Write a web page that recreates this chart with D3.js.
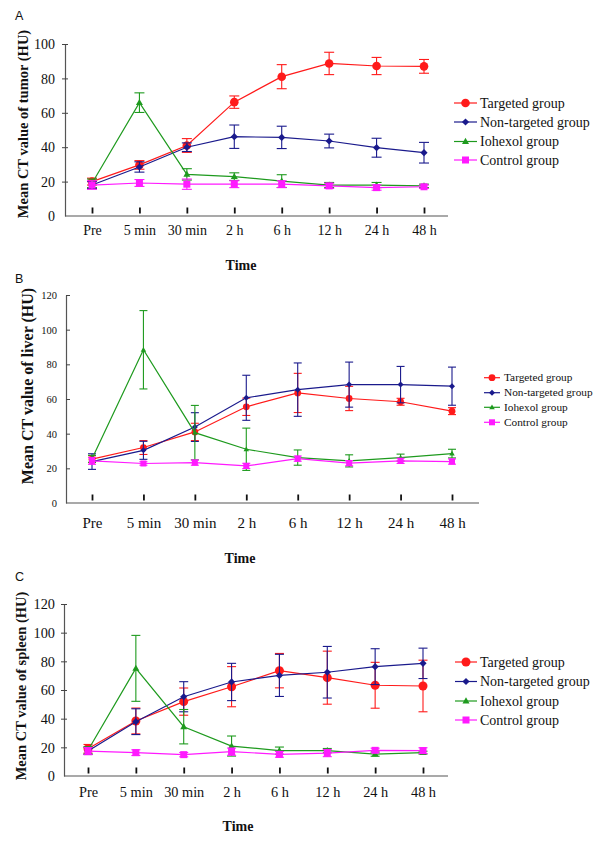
<!DOCTYPE html>
<html><head><meta charset="utf-8">
<script src="https://cdn.jsdelivr.net/npm/d3@7"></script>
<style>
html,body{margin:0;padding:0;background:#fff;}
svg{display:block;}
text{font-family:"Liberation Serif","Times New Roman",serif;fill:#111;}
</style></head>
<body>
<svg id="chart" width="600" height="841"></svg>
<script>
// ---------- DATA ----------
const categories = ["Pre","5 min","30 min","2 h","6 h","12 h","24 h","48 h"];
const seriesNames = ["Targeted group","Non-targeted group","Iohexol group","Control group"];
const seriesColors = ["#ff1a1a","#1a1a8c","#1e9a1e","#ff1aff"];
const seriesShapes = ["circle","diamond","triangle","square"];

// Panel A: tumor
const tumorTargeted      = [20, 29.7, 41, 66.2, 81, 88.7, 87.2, 87];
const tumorTargetedErr   = [2, 2.5, 4, 3.6, 7, 6.5, 5, 4];
const tumorNonTargeted   = [18, 28.5, 40, 46.1, 45.7, 43.6, 39.7, 36.8];
const tumorNonTargetedErr= [2, 3, 2.5, 6.8, 6.5, 4, 5.5, 6];
const tumorIohexol       = [19, 65.9, 24.2, 22.9, 20.3, 18, 18, 17.5];
const tumorIohexolErr    = [2.5, 5.7, 3.3, 2.2, 3.7, 1.5, 1.5, 1];
const tumorControl       = [18, 19.2, 18.5, 18.5, 18.5, 17.5, 16.5, 17];
const tumorControlErr    = [2.5, 2, 3, 2, 2, 1.5, 1.5, 1];

// Panel B: liver
const liverTargeted      = [25.3, 32, 41, 55.5, 63.5, 60.3, 58.4, 53];
const liverTargetedErr   = [2, 4, 5, 5, 11.3, 7, 2, 2];
const liverNonTargeted   = [23.9, 30.4, 43.8, 60.7, 65.4, 68.3, 68.3, 67.4];
const liverNonTargetedErr= [4.5, 5.2, 8.3, 13, 15.4, 13, 10.5, 11];
const liverIohexol       = [25.5, 88.4, 40.6, 31, 26.2, 24.3, 26.2, 28.5];
const liverIohexolErr    = [2, 22.6, 15.7, 12.2, 4.4, 3.5, 2, 2.5];
const liverControl       = [24.3, 22.8, 23.3, 21.4, 25.6, 23, 24.3, 23.9];
const liverControlErr    = [2, 1, 1.5, 1.5, 1.5, 1.5, 1.5, 1.5];

// Panel C: spleen
const spleenTargeted      = [19, 38.4, 51.9, 62.3, 73.5, 68.6, 63.3, 62.8];
const spleenTargetedErr   = [3, 9, 9.5, 14, 12, 18.5, 16, 18];
const spleenNonTargeted   = [17.5, 37.9, 55.3, 65.6, 70.2, 72.4, 76.3, 78.6];
const spleenNonTargetedErr= [2.5, 9, 10.5, 13, 14.7, 18, 12.5, 10.6];
const spleenIohexol       = [18, 75.1, 34.4, 20.9, 17.7, 17.7, 15.3, 16.3];
const spleenIohexolErr    = [2.5, 23, 12, 7, 2.5, 1.5, 1.5, 1];
const spleenControl       = [17.4, 16.3, 14.9, 17, 15.1, 16, 17.9, 17.7];
const spleenControlErr    = [2.5, 2, 1.5, 2.5, 2, 2.5, 1.5, 2];

const yTicksA = [0,20,40,60,80,100];
const yTicksBC = [0,20,40,60,80,100,120];

// ---------- LAYOUT ----------
const panels = [
  {label:"A", labelY:20, title:"Mean CT value of tumor (HU)",
   values:[tumorTargeted,tumorNonTargeted,tumorIohexol,tumorControl],
   errors:[tumorTargetedErr,tumorNonTargetedErr,tumorIohexolErr,tumorControlErr],
   yTicks:yTicksA, yMax:100,
   axX0:65, axX1:448, cat0:92, cat1:424, y0:216, yTop:44,
   xFont:14, yFont:14, yLabelRight:55, xLabelDy:19, ytickMode:"cross",
   titleX:22.5, titleY:124, titleFont:14.5, timeX:241, timeY:270,
   mk:{r:4.3, d:3.6, t:7, s:7}, cap:5,
   leg:{x0:454, x1:477, tx:480, y:[103,122,141.5,160], font:14}},
  {label:"B", labelY:283, title:"Mean CT value of liver (HU)",
   values:[liverTargeted,liverNonTargeted,liverIohexol,liverControl],
   errors:[liverTargetedErr,liverNonTargetedErr,liverIohexolErr,liverControlErr],
   yTicks:yTicksBC, yMax:120,
   axX0:66, axX1:479, cat0:92, cat1:452, y0:503, yTop:295,
   xFont:15, yFont:10.5, yLabelRight:57, xLabelDy:25, ytickMode:"in",
   titleX:27.5, titleY:386, titleFont:16, timeX:240, timeY:563,
   mk:{r:3.4, d:3, t:5.5, s:6}, cap:4,
   leg:{x0:484, x1:500, tx:504, y:[377.7,392.7,407.3,422.3], font:11.3}},
  {label:"C", labelY:581, title:"Mean CT value of spleen (HU)",
   values:[spleenTargeted,spleenNonTargeted,spleenIohexol,spleenControl],
   errors:[spleenTargetedErr,spleenNonTargetedErr,spleenIohexolErr,spleenControlErr],
   yTicks:yTicksBC, yMax:120,
   axX0:64, axX1:448, cat0:88, cat1:423, y0:776, yTop:604,
   xFont:14.3, yFont:14.3, yLabelRight:55, xLabelDy:21, ytickMode:"cross",
   titleX:21, titleY:686, titleFont:14.5, timeX:238, timeY:831,
   mk:{r:4.5, d:3.6, t:7, s:7}, cap:4.5,
   leg:{x0:455, x1:477, tx:480, y:[662,681.5,701,720], font:14}}
];

const svg = d3.select("#chart");

function drawMarker(g, shape, x, y, mk, color){
  if(shape==="circle"){
    g.append("circle").attr("cx",x).attr("cy",y).attr("r",mk.r).attr("fill",color);
  } else if(shape==="diamond"){
    const d=mk.d;
    g.append("path").attr("d",`M${x},${y-d}L${x+d},${y}L${x},${y+d}L${x-d},${y}Z`).attr("fill",color);
  } else if(shape==="triangle"){
    const t=mk.t, h=t*0.87;
    g.append("path").attr("d",`M${x},${y-h*0.6}L${x+t/2},${y+h*0.4}L${x-t/2},${y+h*0.4}Z`).attr("fill",color);
  } else {
    const s=mk.s;
    g.append("rect").attr("x",x-s/2).attr("y",y-s/2).attr("width",s).attr("height",s).attr("fill",color);
  }
}

panels.forEach(p=>{
  const g = svg.append("g");
  const x = d3.scalePoint().domain(categories).range([p.cat0,p.cat1]);
  const y = d3.scaleLinear().domain([0,p.yMax]).range([p.y0,p.yTop]);

  // panel label
  svg.append("text").attr("x",15).attr("y",p.labelY)
    .style("font-family","'Liberation Sans',Arial,sans-serif").style("font-size","12.5px").text(p.label);

  // y axis
  const yAxis = d3.axisLeft(y).tickValues(p.yTicks).tickFormat(d3.format("d"))
    .tickSizeOuter(0).tickSizeInner(p.ytickMode==="in"?-4:3).tickPadding(0);
  const ya = g.append("g").attr("transform",`translate(${p.axX0},0)`).call(yAxis);
  ya.select(".domain").attr("stroke","#555").attr("stroke-width",1.2);
  ya.selectAll(".tick line").attr("stroke","#444").attr("stroke-width",1);
  if(p.ytickMode==="cross") ya.selectAll(".tick line").attr("x1",3);
  ya.selectAll(".tick text").attr("x",p.yLabelRight-p.axX0).attr("dy","0.34em")
    .style("font-size",p.yFont+"px").style("font-family","'Liberation Serif',serif").attr("fill","#222");
  ya.selectAll(".tick").filter(d=>d===0).select("line").remove();

  // x axis
  const xAxis = d3.axisBottom(x).tickSize(0).tickPadding(0);
  const xa = g.append("g").attr("transform",`translate(0,${p.y0})`).call(xAxis);
  xa.select(".domain").attr("d",`M${p.axX0},0H${p.axX1}`).attr("stroke","#555").attr("stroke-width",1.2);
  xa.selectAll(".tick text").attr("y",p.xLabelDy).attr("dy",0)
    .style("font-size",p.xFont+"px").style("font-family","'Liberation Serif',serif").attr("fill","#222");
  xa.selectAll(".tick").append("line").attr("x1",0).attr("x2",0).attr("y1",-2.5).attr("y2",-8.5)
    .attr("stroke","#111").attr("stroke-width",1.8);

  // axis titles
  svg.append("text").attr("transform",`translate(${p.titleX},${p.titleY}) rotate(-90)`)
    .attr("text-anchor","middle").attr("dominant-baseline","central")
    .style("font-weight","bold").style("font-size",p.titleFont+"px").text(p.title);
  svg.append("text").attr("x",p.timeX).attr("y",p.timeY).attr("text-anchor","middle")
    .style("font-weight","bold").style("font-size","14px").text("Time");

  // series
  p.values.forEach((vals,si)=>{
    const col = seriesColors[si];
    const sg = g.append("g");
    const errs = p.errors[si];
    // error bars
    vals.forEach((v,i)=>{
      const cx = x(categories[i]);
      const yt = y(v+errs[i]), yb = y(v-errs[i]);
      sg.append("line").attr("x1",cx).attr("x2",cx).attr("y1",yt).attr("y2",yb).attr("stroke",col).attr("stroke-width",1.1);
      sg.append("line").attr("x1",cx-p.cap).attr("x2",cx+p.cap).attr("y1",yt).attr("y2",yt).attr("stroke",col).attr("stroke-width",1.1);
      sg.append("line").attr("x1",cx-p.cap).attr("x2",cx+p.cap).attr("y1",yb).attr("y2",yb).attr("stroke",col).attr("stroke-width",1.1);
    });
    const line = d3.line().x((d,i)=>x(categories[i])).y(d=>y(d));
    sg.append("path").datum(vals).attr("d",line).attr("fill","none").attr("stroke",col).attr("stroke-width",1.2);
    vals.forEach((v,i)=>drawMarker(sg, seriesShapes[si], x(categories[i]), y(v), p.mk, col));
  });

  // legend
  const lg = svg.append("g");
  seriesNames.forEach((name,si)=>{
    const ly = p.leg.y[si], col = seriesColors[si];
    lg.append("line").attr("x1",p.leg.x0).attr("x2",p.leg.x1).attr("y1",ly).attr("y2",ly).attr("stroke",col).attr("stroke-width",1.2);
    drawMarker(lg, seriesShapes[si], (p.leg.x0+p.leg.x1)/2, ly, p.mk, col);
    lg.append("text").attr("x",p.leg.tx).attr("y",ly).attr("dy","0.33em")
      .style("font-size",p.leg.font+"px").text(name);
  });
});
</script>
</body></html>
